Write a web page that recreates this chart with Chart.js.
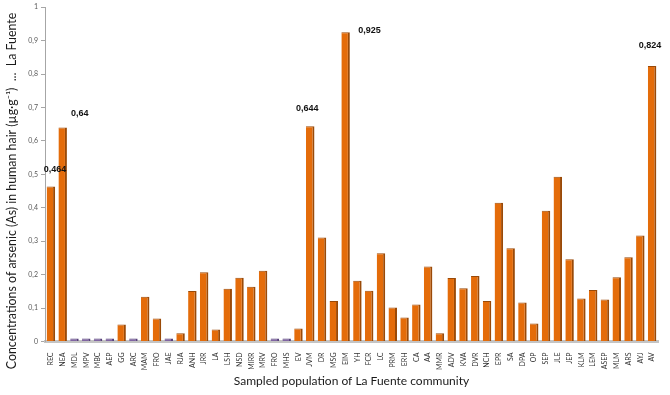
<!DOCTYPE html>
<html>
<head>
<meta charset="utf-8">
<script src="https://cdn.jsdelivr.net/npm/chart.js@4"></script>
<style>
  html, body { margin: 0; padding: 0; background: #fff; }
  #wrap { width: 670px; height: 395px; }
</style>
</head>
<body>
<div id="wrap"><canvas id="chartCanvasId"></canvas></div>
<script>
"use strict";

const labels = ["REC", "NEA", "MDL", "MPV", "MBC", "AEP", "GG", "ARC", "MAM", "FRO",
    "JAE", "RJA", "ANH", "JRR", "LA", "LSH", "NSD", "MIRR", "MRV", "FRO",
    "MHS", "EV", "JVM", "DR", "MSG", "EIM", "YH", "FCR", "LC", "PRM",
    "ERH", "CA", "AA", "MMR", "ADV", "KVA", "DVR", "NCH", "EPR", "SA",
    "DPA", "OP", "SEP", "JLE", "JEP", "KLM", "LEM", "ASEP", "MLM", "ARS",
    "AYJ", "AV"];

const values = [0.464, 0.64, 0.009, 0.009, 0.009, 0.009, 0.051, 0.009, 0.134, 0.069,
    0.009, 0.025, 0.151, 0.207, 0.036, 0.158, 0.191, 0.164, 0.212, 0.009,
    0.009, 0.039, 0.644, 0.311, 0.121, 0.925, 0.182, 0.152, 0.264, 0.102,
    0.072, 0.111, 0.224, 0.025, 0.19, 0.159, 0.196, 0.121, 0.415, 0.279,
    0.117, 0.054, 0.391, 0.493, 0.246, 0.129, 0.154, 0.126, 0.192, 0.252,
    0.317, 0.824];

// samples shown in purple (below detection)
const belowLimit = [2, 3, 4, 5, 7, 10, 19, 20];

// bars with a value printed above them
const calloutIndex = [0, 1, 22, 25, 51];

const yTicks = [0, 0.1, 0.2, 0.3, 0.4, 0.5, 0.6, 0.7, 0.8, 0.9, 1];

const yTitle = "Concentrations of arsenic (As) in human hair (\u00b5g\u00b7g\u207b\u00b9)  ...  La Fuente";
const xTitle = "Sampled population of La Fuente community";

const orange = "#E46C0A";
const orangeDark = "#9A4A08";
const purple = "#8064A2";
const purpleDark = "#56407A";

const barColors = values.map((v, i) => belowLimit.includes(i) ? purple : orange);
const edgeColors = values.map((v, i) => belowLimit.includes(i) ? purpleDark : orangeDark);

const extraText = {
    id: "extraText",
    afterDraw(chart, args, opts) {
        const ctx = chart.ctx;
        const meta = chart.getDatasetMeta(0);
        ctx.save();
        ctx.fillStyle = "#111";
        ctx.font = "bold 9px 'Liberation Sans', Arial, sans-serif";
        ctx.textAlign = "center";
        ctx.textBaseline = "middle";
        calloutIndex.forEach((idx, k) => {
            const bar = meta.data[idx];
            const off = opts.offsets[k];
            const text = String(values[idx]).replace(".", ",");
            ctx.fillText(text, bar.x + off[0], bar.y + off[1]);
        });

        ctx.translate(opts.yTitleX, opts.yTitleY);
        ctx.rotate(-Math.PI / 2);
        ctx.font = "12.4px Lato, 'Open Sans', sans-serif";
        ctx.fillStyle = "#1a1a1a";
        ctx.fillText(yTitle, 0, 0);
        ctx.restore();
    },
};

function initialize() {
    const chartContext = document.getElementById("chartCanvasId").getContext("2d");

    new Chart(chartContext, {
        type: "bar",
        data: {
            labels: labels,
            datasets: [{
                data: values,
                backgroundColor: barColors,
                borderColor: edgeColors,
                borderWidth: { top: 1, right: 2, left: 0, bottom: 0 },
                borderSkipped: false,
                categoryPercentage: 1,
                barPercentage: 0.72,
            }],
        },
        options: {
            responsive: true,
            maintainAspectRatio: false,
            animation: false,
            layout: {
                padding: { top: 5, right: 12, left: 0, bottom: 0 },
            },
            plugins: {
                legend: { display: false },
                tooltip: { enabled: false },
                extraText: {
                    offsets: [[4, -17], [17, -14], [-3, -18], [24, -2], [-2, -21]],
                    yTitleX: 12,
                    yTitleY: 191,
                },
            },
            scales: {
                x: {
                    grid: { display: false },
                    border: { display: true, color: "#c4c4c4", width: 3 },
                    ticks: {
                        autoSkip: false,
                        maxRotation: 90,
                        minRotation: 90,
                        padding: 3,
                        color: "#333",
                        font: { family: "Lato, 'Open Sans', sans-serif", size: 7 },
                    },
                    title: {
                        display: true,
                        text: xTitle,
                        color: "#1a1a1a",
                        font: { family: "Lato, 'Open Sans', sans-serif", size: 12 },
                        padding: { top: 0, bottom: 7 },
                    },
                    afterFit(scale) { scale.height = 53.5; },
                },
                y: {
                    min: 0,
                    max: 1,
                    afterBuildTicks(scale) {
                        scale.ticks = yTicks.map(v => ({ value: v }));
                    },
                    grid: {
                        drawOnChartArea: false,
                        drawTicks: true,
                        tickLength: 4,
                        color: "#a6a6a6",
                    },
                    border: { display: true, color: "#a6a6a6", width: 1 },
                    ticks: {
                        padding: 3,
                        color: "#595959",
                        font: { family: "Lato, 'Open Sans', sans-serif", size: 7 },
                        callback: v => String(v).replace(".", ","),
                    },
                    afterFit(scale) { scale.width = 45; },
                },
            },
        },
        plugins: [extraText],
    });
}

initialize();
</script>
</body>
</html>
